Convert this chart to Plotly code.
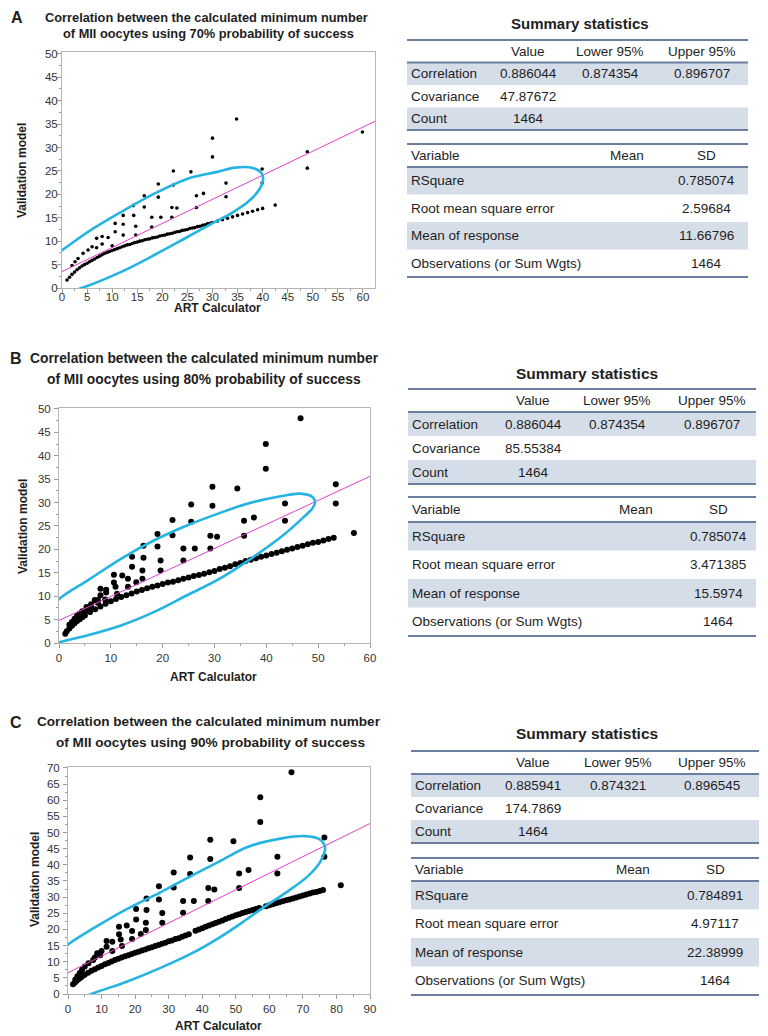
import plotly.graph_objs as go

W, H = 768, 1036
OFF = 8  # the page body margin shifts the figure by this much

# ---------------- panel data ----------------
A_CURVE_X = [1, 1.5, 2, 2.5, 3, 3.5, 4, 4.5, 5, 5.5, 6, 6.5, 7, 7.5, 8, 8.5, 9, 9.5,
             10, 10.5, 11, 11.5, 12, 12.5, 13, 13.5, 14, 14.5, 15, 15.5, 16, 16.5,
             17, 17.5, 18, 18.5, 19, 19.5, 20, 20.5, 21, 21.5, 22, 22.5, 23, 23.5,
             24, 24.5, 25, 25.5, 26, 26.5, 27, 27.5, 28, 28.5, 29, 29.5, 30, 31,
             32, 33, 34, 35, 36, 37, 38, 39, 40]
A_CURVE_Y = [1.7, 2.3, 2.9, 3.4, 3.9, 4.3, 4.7, 5.0, 5.3, 5.6, 5.9, 6.2, 6.5, 6.8, 7.1, 7.4, 7.6, 7.8,
             8.0, 8.2, 8.4, 8.6, 8.8, 9.0, 9.2, 9.3, 9.5, 9.7, 9.8, 10.0, 10.1, 10.3,
             10.4, 10.5, 10.7, 10.8, 10.9, 11.1, 11.2, 11.3, 11.5, 11.6, 11.7, 11.9, 12.0, 12.1,
             12.3, 12.4, 12.5, 12.7, 12.8, 12.9, 13.1, 13.2, 13.4, 13.5, 13.7, 13.8, 14.0, 14.3,
             14.6, 14.9, 15.2, 15.5, 15.8, 16.1, 16.4, 16.7, 17.0]
A_OUT_X = [34.8, 59.9, 48.9, 48.9, 39.9, 39.9, 32.7, 32.7, 42.5, 30.0, 30.0, 22.2, 25.7,
           19.2, 22.2, 16.4, 19.2, 26.8, 28.2, 14.2, 16.4, 21.9, 22.9, 26.8, 12.2, 14.3,
           17.9, 19.7, 21.9, 10.6, 12.2, 14.7, 17.9, 10.6, 9.2, 8.0, 12.2, 14.7, 6.9,
           10.0, 8.0, 6.0, 6.9, 5.2, 4.2, 3.2, 2.6, 2.0]
A_OUT_Y = [36.1, 33.3, 29.1, 25.6, 25.4, 22.4, 22.4, 19.5, 17.7, 32.0, 28.0, 25.0, 24.8,
           22.2, 22.0, 19.7, 19.4, 19.7, 20.2, 17.6, 17.3, 17.2, 17.1, 17.2, 15.5, 15.5,
           15.1, 15.1, 15.1, 13.8, 13.6, 13.2, 13.0, 12.0, 10.8, 11.0, 11.3, 11.3, 10.6,
           9.0, 9.4, 8.8, 8.6, 8.1, 7.4, 6.3, 5.6, 4.8]
A_FIT_X = [0, 62.4]
A_FIT_Y = [3.5, 35.6]
A_ELL_X = [-9.5, -7, -3.5, 0.3, 5.2, 11.9, 18.5, 25.2, 31, 34.5, 37.8, 39.8, 40.1,
           39.5, 37.1, 33.8, 30.5, 25.2, 18.5, 11.9, 4.2, -2, -6, -9, -9.5]
A_ELL_Y = [0, 2.8, 5.5, 8.3, 12.0, 16.3, 20.2, 23.4, 24.8, 25.7, 25.7, 24.5, 23.2,
           21.3, 18.4, 16.0, 14.1, 11.0, 7.1, 3.5, 0.1, -1.8, -2.5, -1.8, 0]

B_CURVE_X = [1.2, 1.5, 2, 2.5, 3, 3.5, 4, 4.5, 5, 6, 7, 8, 9, 10, 11, 12, 13, 14, 15,
             16, 17, 18, 19, 20, 21, 22, 23, 24, 25, 26, 27, 28, 29, 30, 31, 32, 33,
             34, 35, 36, 37, 38, 39, 40, 41, 42, 43, 44, 45, 46, 47, 48, 49, 50, 51,
             52, 53]
B_CURVE_Y = [2.0, 2.5, 3.1, 3.7, 4.2, 4.7, 5.1, 5.5, 5.9, 6.6, 7.2, 7.8, 8.4, 8.9, 9.4,
             9.8, 10.2, 10.6, 11.0, 11.3, 11.7, 12.0, 12.3, 12.6, 12.9, 13.1, 13.4, 13.7,
             14.0, 14.3, 14.5, 14.8, 15.1, 15.4, 15.8, 16.1, 16.4, 16.8, 17.1, 17.5, 17.8,
             18.1, 18.4, 18.7, 19.0, 19.3, 19.6, 19.9, 20.2, 20.5, 20.8, 21.1, 21.4, 21.6,
             21.9, 22.2, 22.5]
B_OUT_X = [46.6, 39.9, 39.9, 34.4, 53.4, 53.4, 43.6, 43.6, 37.6, 35.7, 35.7, 30.5, 29.2,
           29.2, 29.6, 29.6, 25.5, 25.5, 21.9, 21.9, 24.0, 26.2, 24.0, 19.0, 19.0, 19.6,
           19.6, 16.3, 16.3, 14.1, 14.1, 16.1, 16.1, 14.9, 13.3, 13.3, 12.2, 10.6, 10.6,
           10.9, 11.2, 9.1, 9.1, 8.0, 8.0, 8.9, 7.5, 7.5, 6.9, 6.2, 6.2, 5.3, 5.3, 4.5,
           4.0, 3.5, 3.0, 2.5, 2.0, 56.9]
B_OUT_Y = [48.0, 42.5, 37.2, 33.0, 33.9, 29.8, 29.8, 26.1, 26.8, 26.1, 22.9, 22.7, 22.9,
           20.2, 33.4, 29.3, 29.6, 25.9, 26.3, 23.0, 20.2, 20.2, 17.6, 23.3, 20.6, 17.6,
           15.5, 20.8, 18.2, 18.4, 16.3, 15.5, 13.7, 13.0, 13.7, 12.0, 14.4, 14.6, 12.9,
           12.0, 10.5, 11.4, 10.8, 11.6, 10.2, 9.3, 9.2, 8.6, 9.2, 8.3, 7.7, 7.7, 6.9, 6.8,
           6.3, 5.8, 5.2, 4.5, 3.9, 23.5]
B_FIT_X = [0, 60]
B_FIT_Y = [4.8, 35.6]
B_ELL_X = [-7.5, -4, -0.1, 5.7, 12.1, 18.5, 24.9, 31.1, 36.5, 43, 46.5, 48.9, 49.4,
           48.9, 47.2, 43, 37.4, 31.1, 24.9, 18.5, 12.1, 5.7, 1.2, -3, -6.5, -7.5]
B_ELL_Y = [0.5, 4.8, 9.3, 13.5, 18.1, 22.0, 25.2, 27.8, 29.8, 31.4, 31.9, 31.2, 30.0,
           28.8, 26.9, 22.8, 18.3, 13.8, 10.3, 6.7, 3.8, 1.7, 0.5, -0.8, -1, 0.5]

C_CURVE_X = [1.5, 2, 2.5, 3, 3.5, 4, 4.5, 5, 6, 7, 8, 9, 10, 11, 12, 13, 14, 15, 16, 17,
             18, 19, 20, 21, 22, 23, 24, 25, 26, 27, 28, 29, 30, 31, 32, 33, 34, 35, 36,
             38, 39, 40, 41, 42, 43, 44, 45, 46, 47, 48, 49, 50, 51, 52, 53, 54, 55, 56,
             57, 59, 60, 61, 62, 63, 64, 65, 66, 67, 68, 69, 70, 71, 72, 73, 74, 75, 76]
C_CURVE_Y = [3.0, 3.5, 4.0, 4.5, 4.9, 5.3, 5.7, 6.0, 6.6, 7.2, 7.7, 8.2, 8.7, 9.2, 9.6,
             10.1, 10.5, 10.9, 11.3, 11.7, 12.0, 12.4, 12.8, 13.1, 13.5, 13.8, 14.2, 14.5,
             14.9, 15.2, 15.6, 15.9, 16.3, 16.6, 17.0, 17.3, 17.7, 18.1, 18.5, 19.6, 20.0,
             20.4, 20.8, 21.2, 21.6, 22.0, 22.4, 22.8, 23.2, 23.6, 24.0, 24.4, 24.7, 25.1,
             25.4, 25.7, 26.0, 26.3, 26.6, 27.2, 27.5, 27.8, 28.1, 28.4, 28.7, 29.0, 29.3,
             29.6, 29.9, 30.2, 30.5, 30.8, 31.1, 31.4, 31.6, 31.9, 32.2]
C_OUT_X = [66.6, 57.3, 57.3, 49.3, 76.4, 76.4, 62.4, 62.4, 53.8, 51.0, 51.0, 43.6, 81.3,
           42.4, 42.4, 36.4, 36.4, 31.5, 31.5, 27.1, 27.1, 23.4, 23.4, 20.3, 20.3, 41.8,
           37.5, 34.3, 34.3, 41.8, 28.1, 28.1, 23.2, 23.2, 21.7, 17.5, 19.1, 19.1, 15.2,
           15.2, 15.7, 16.1, 13.2, 11.5, 11.5, 13.2, 10.0, 8.7, 9.6, 7.5, 8.0, 6.1, 5.0,
           4.2, 3.5, 2.8, 2.2]
C_OUT_Y = [68.7, 60.9, 53.3, 47.3, 48.5, 42.5, 42.5, 37.3, 38.4, 37.3, 32.8, 32.4, 33.7,
           47.8, 41.8, 42.3, 37.2, 37.6, 33.0, 33.4, 29.3, 29.6, 26.0, 26.3, 23.1, 28.8,
           28.8, 28.8, 25.2, 32.8, 25.1, 22.1, 22.1, 19.8, 18.6, 21.2, 19.5, 17.0, 20.8,
           18.5, 16.9, 14.9, 16.2, 16.4, 14.6, 13.3, 13.3, 12.6, 12.0, 10.5, 11.3, 9.5,
           8.5, 7.5, 6.5, 5.5, 4.5]
C_FIT_X = [0, 90]
C_FIT_Y = [6.6, 52.8]
C_ELL_X = [-12.5, -9, -4, 0.1, 7.5, 17.5, 27.4, 37.3, 45, 53.7, 63.7, 70.5, 74.8, 76.6,
           75.2, 71.5, 65.5, 58.5, 52, 45, 37.3, 27.4, 17.5, 8, 0, -6, -11, -12.5]
C_ELL_Y = [0, 6, 11.5, 15.4, 20.3, 26.3, 31.4, 36.9, 41.0, 45.6, 48.2, 48.9, 48.0, 45.4,
           41.0, 36.5, 31.8, 27.0, 22.2, 17.4, 12.8, 8.0, 3.8, 0.4, -3, -4.5, -3, 0]

# ---------------- summary statistics tables ----------------
STAT_HEAD = ["Value", "Lower 95%", "Upper 95%"]
STAT_ROWS = ["Correlation", "Covariance", "Count"]
FIT_HEAD = ["Variable", "Mean", "SD"]
FIT_ROWS = ["RSquare", "Root mean square error", "Mean of response",
            "Observations (or Sum Wgts)"]

A_VALUE = ["0.886044", "47.87672", "1464"]
A_LOWER = ["0.874354", "", ""]
A_UPPER = ["0.896707", "", ""]
A_SD = ["0.785074", "2.59684", "11.66796", "1464"]

B_VALUE = ["0.886044", "85.55384", "1464"]
B_LOWER = ["0.874354", "", ""]
B_UPPER = ["0.896707", "", ""]
B_SD = ["0.785074", "3.471385", "15.5974", "1464"]

C_VALUE = ["0.885941", "174.7869", "1464"]
C_LOWER = ["0.874321", "", ""]
C_UPPER = ["0.896545", "", ""]
C_SD = ["0.784891", "4.97117", "22.38999", "1464"]

FONT = "Liberation Sans, Arial, sans-serif"
SHADE = "#d5dde9"
RULE = "#6a7fa0"
ELL_COLOR = "#25b4e2"
FIT_COLOR = "#e040c8"
TXT = "#1e1e1e"


def px(x):
    return (x - OFF) / W


def py(y):
    return 1 - (y - OFF) / H


def panel_traces(n, cx, cy, ox, oy, fx, fy, ex, ey, msize):
    xa, ya = ("x", "y") if n == 1 else ("x%d" % n, "y%d" % n)
    mk = dict(color="black", size=msize, line=dict(width=0))
    return [
        go.Scatter(x=cx, y=cy, mode="markers", marker=mk, xaxis=xa, yaxis=ya),
        go.Scatter(x=ox, y=oy, mode="markers", marker=mk, xaxis=xa, yaxis=ya),
        go.Scatter(x=fx, y=fy, mode="lines", line=dict(color=FIT_COLOR, width=1),
                   xaxis=xa, yaxis=ya),
        go.Scatter(x=ex, y=ey, mode="lines",
                   line=dict(color=ELL_COLOR, width=2.6, shape="spline", smoothing=1),
                   xaxis=xa, yaxis=ya),
    ]


def axis(domain, rng, dtick, minor, anchor, standoff=0):
    return dict(domain=domain, range=rng, dtick=dtick, tick0=0, anchor=anchor,
                automargin=False, showgrid=False, zeroline=False, showline=True,
                mirror=True, linecolor="#b5b5b5", linewidth=1, ticks="outside",
                ticklen=4, tickcolor="#9a9a9a", ticklabelstandoff=standoff,
                tickfont=dict(family=FONT, size=11.5, color="#333"),
                minor=dict(dtick=minor, tick0=0, ticks="outside", ticklen=2,
                           tickcolor="#9a9a9a"),
                fixedrange=True)


def note(x, y, text, size, angle=0, anchor="center"):
    return dict(x=px(x), y=py(y), xref="paper", yref="paper", text=text, showarrow=False,
                xanchor=anchor, yanchor="middle", textangle=angle, borderpad=0,
                font=dict(family=FONT, size=size, color=TXT))


def rule(left, right, yy):
    return dict(type="line", xref="paper", yref="paper", x0=px(left), x1=px(right),
                y0=py(yy), y1=py(yy), line=dict(color=RULE, width=2))


def band(left, right, y0, y1):
    return dict(type="rect", xref="paper", yref="paper", x0=px(left), x1=px(right),
                y0=py(y1), y1=py(y0), fillcolor=SHADE, line=dict(width=0), layer="below")


def table(left, right, top, head_h, row_h, head, labels, columns, centers, label_head):
    # header row, shaded alternate rows, three rules, and the cell texts
    shapes, notes = [], []
    n = len(labels)
    bottom = top + head_h + n * row_h
    for i in range(0, n, 2):
        y0 = top + head_h + i * row_h
        shapes.append(band(left, right, y0, y0 + row_h))
    for yy in (top, top + head_h, bottom):
        shapes.append(rule(left, right, yy))
    hy = top + head_h / 2
    if label_head:
        notes.append(note(left + 3, hy, head[0], 13.5, anchor="left"))
        head = head[1:]
    for cx, h in zip(centers, head):
        notes.append(note(cx, hy, h, 13.5))
    for i, lab in enumerate(labels):
        ry = top + head_h + (i + 0.5) * row_h
        notes.append(note(left + 3, ry, lab, 13.5, anchor="left"))
        for cx, col in zip(centers, columns):
            if col[i]:
                notes.append(note(cx, ry, col[i], 13.5))
    return shapes, notes


data = []
data += panel_traces(1, A_CURVE_X, A_CURVE_Y, A_OUT_X, A_OUT_Y, A_FIT_X, A_FIT_Y,
                     A_ELL_X, A_ELL_Y, 3.6)
data += panel_traces(2, B_CURVE_X, B_CURVE_Y, B_OUT_X, B_OUT_Y, B_FIT_X, B_FIT_Y,
                     B_ELL_X, B_ELL_Y, 6)
data += panel_traces(3, C_CURVE_X, C_CURVE_Y, C_OUT_X, C_OUT_Y, C_FIT_X, C_FIT_Y,
                     C_ELL_X, C_ELL_Y, 6)

shapes, annotations = [], []
# (left, right, top1, head1, row1, centers1, top2, head2, row2, centers2, value, lower, upper, sd)
for (left, right, t1, h1, r1, c1, t2, h2, r2, c2, val, low, up, sd) in [
        (407, 748, 40, 22.5, 22.5, [528, 610, 702], 144, 23, 27.5, [627, 706],
         A_VALUE, A_LOWER, A_UPPER, A_SD),
        (408, 756, 389, 23, 24, [533, 617, 712], 497, 25, 28.5, [636, 718],
         B_VALUE, B_LOWER, B_UPPER, B_SD),
        (411, 759, 751, 23, 23, [533, 618, 712], 858, 23, 28.5, [633, 715],
         C_VALUE, C_LOWER, C_UPPER, C_SD)]:
    s, a = table(left, right, t1, h1, r1, STAT_HEAD, STAT_ROWS, [val, low, up], c1, False)
    shapes += s
    annotations += a
    s, a = table(left, right, t2, h2, r2, FIT_HEAD, FIT_ROWS,
                 [["", "", "", ""], sd], c2, True)
    shapes += s
    annotations += a

annotations += [
    note(17, 17, "<b>A</b>", 16),
    note(206, 17, "<b>Correlation between the calculated minimum number</b>", 12.8),
    note(208, 34, "<b>of MII oocytes using 70% probability of success</b>", 12.8),
    note(22, 171, "<b>Validation model</b>", 12, angle=-90),
    note(217, 308, "<b>ART Calculator</b>", 12),
    note(580, 24, "<b>Summary statistics</b>", 15),

    note(16, 358, "<b>B</b>", 16),
    note(204, 358, "<b>Correlation between the calculated minimum number</b>", 13.8),
    note(204, 379, "<b>of MII oocytes using 80% probability of success</b>", 13.8),
    note(23, 527, "<b>Validation model</b>", 12, angle=-90),
    note(213, 677, "<b>ART Calculator</b>", 12),
    note(587, 373, "<b>Summary statistics</b>", 15.5),

    note(16, 722, "<b>C</b>", 16),
    note(209, 721, "<b>Correlation between the calculated minimum number</b>", 13.6),
    note(210, 742, "<b>of MII oocytes using 90% probability of success</b>", 13.6),
    note(35, 880, "<b>Validation model</b>", 12, angle=-90),
    note(218, 1026, "<b>ART Calculator</b>", 12),
    note(587, 733, "<b>Summary statistics</b>", 15.5),
]

layout = go.Layout(
    width=W, height=H, autosize=False,
    margin=dict(l=0, r=0, t=0, b=0, pad=0),
    paper_bgcolor="white", plot_bgcolor="white",
    showlegend=False,
    xaxis=axis([px(62), px(375)], [0, 62.4], 5, 2.5, "y", -6),
    yaxis=axis([py(288), py(52)], [0, 50.4], 5, 2.5, "x", -3),
    xaxis2=axis([px(59), px(370)], [0, 60], 10, 5, "y2"),
    yaxis2=axis([py(643), py(408)], [0, 50.2], 5, 2.5, "x2", 1),
    xaxis3=axis([px(68), px(370)], [0, 90], 10, 5, "y3"),
    yaxis3=axis([py(994), py(767)], [0, 70.3], 5, 2.5, "x3", 1),
    shapes=shapes,
    annotations=annotations,
)

fig = go.Figure(data=data, layout=layout)
fig.write_html("out.html")
